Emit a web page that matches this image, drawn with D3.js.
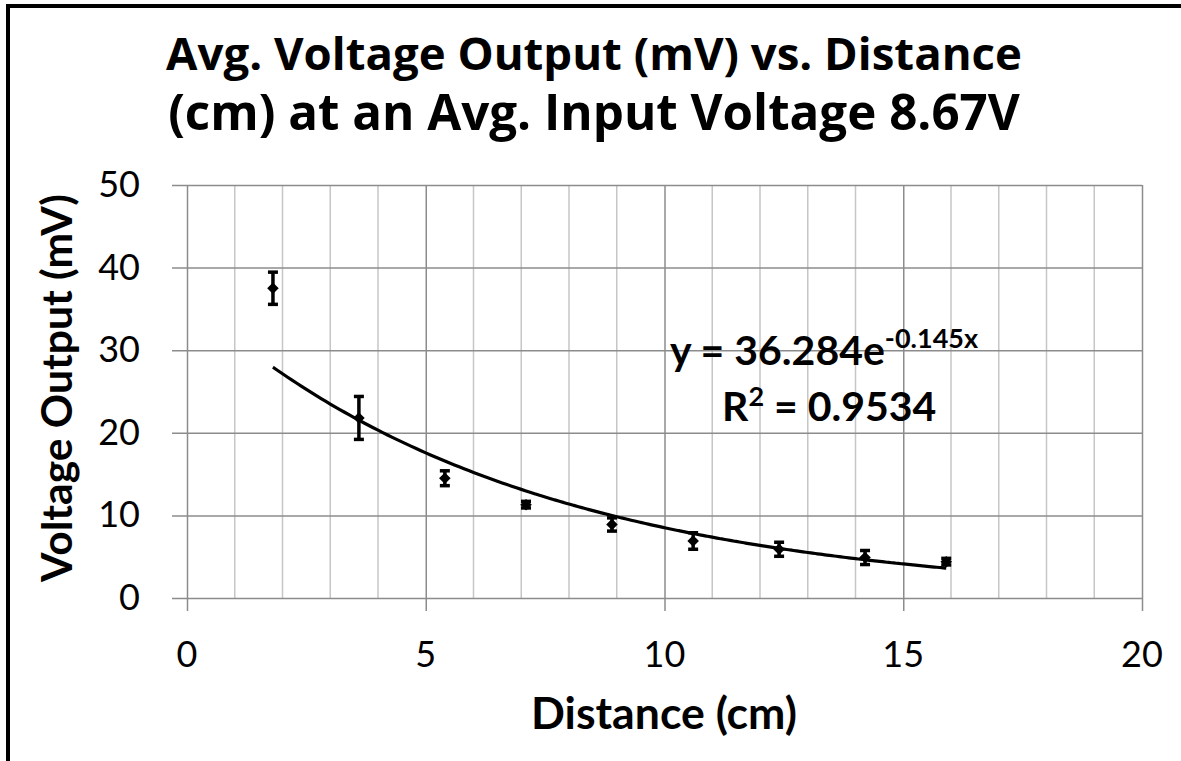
<!DOCTYPE html>
<html><head><meta charset="utf-8">
<script src="https://cdn.jsdelivr.net/npm/d3@7"></script>
<style>html,body{margin:0;padding:0;background:#fff;overflow:hidden;}svg{display:block;}</style>
</head><body>
<svg id="chart" width="1181" height="761"></svg>
<script>
// ---- data ----
const distance = [1.8, 3.6, 5.4, 7.1, 8.9, 10.6, 12.4, 14.2, 15.9];
const voltage  = [37.5, 21.8, 14.5, 11.3, 8.9, 6.9, 5.9, 4.9, 4.4];
const errorBar = [1.95, 2.6, 0.9, 0.4, 0.8, 1.0, 0.85, 0.85, 0.4];
const xTicks = [0, 5, 10, 15, 20];
const yTicks = [0, 10, 20, 30, 40, 50];
const trendA = 36.284, trendB = -0.145;
const titleLines = ["Avg. Voltage Output (mV) vs. Distance", "(cm) at an Avg. Input Voltage 8.67V"];
const xTitle = "Distance (cm)", yTitle = "Voltage Output (mV)";

const FONT = "Lato, 'Open Sans', sans-serif";
const TFONT = "'Open Sans', Lato, sans-serif";
const svg = d3.select("#chart");
const L = 187, R = 1142, T = 185, B = 598;
const x = d3.scaleLinear().domain([0, 20]).range([L, R]);
const y = d3.scaleLinear().domain([0, 50]).range([B, T]);

// border (top and left only visible in the frame)
svg.append("line").attr("x1", 6).attr("x2", 1181).attr("y1", 6).attr("y2", 6).attr("stroke", "#000").attr("stroke-width", 4);
svg.append("line").attr("x1", 8).attr("x2", 8).attr("y1", 4).attr("y2", 761).attr("stroke", "#000").attr("stroke-width", 4);

function fitText(sel, target, base) {
  const w = sel.node().getComputedTextLength();
  sel.attr("font-size", base * target / w);
}

// minor vertical gridlines
svg.append("g").selectAll("line").data(d3.range(0, 21).filter(v => v % 5 !== 0)).join("line")
  .attr("x1", d => x(d)).attr("x2", d => x(d)).attr("y1", T).attr("y2", B)
  .attr("stroke", "#c6c6c6").attr("stroke-width", 1.5);

// major gridlines via axes
const gx = svg.append("g").attr("transform", `translate(0,${B})`)
  .call(d3.axisBottom(x).tickValues(xTicks).tickFormat(""));
gx.select(".domain").remove();
gx.selectAll(".tick line").attr("stroke", "#8c8c8c").attr("stroke-width", 1.5).attr("y1", 13).attr("y2", -(B - T));

const gy = svg.append("g").attr("transform", `translate(${L},0)`)
  .call(d3.axisLeft(y).tickValues(yTicks).tickFormat(""));
gy.select(".domain").remove();
gy.selectAll(".tick line").attr("stroke", "#8c8c8c").attr("stroke-width", 1.5).attr("x1", -15).attr("x2", R - L);

// tick labels
svg.append("g").selectAll("text").data(xTicks).join("text")
  .attr("x", d => x(d)).attr("y", 667).attr("text-anchor", "middle")
  .attr("font-family", FONT).attr("font-size", 36).attr("fill", "#000").text(d => d);
svg.append("g").selectAll("text").data(yTicks).join("text")
  .attr("x", 140).attr("y", d => y(d) + 12).attr("text-anchor", "end")
  .attr("font-family", FONT).attr("font-size", 36).attr("fill", "#000").text(d => d);

// title
const tw = [856, 852];
titleLines.forEach((t, i) => {
  const el = svg.append("text").attr("x", 594).attr("y", 70 + i * 60).attr("text-anchor", "middle")
    .attr("font-family", TFONT).attr("font-weight", "bold").attr("font-size", 40).attr("fill", "#000").text(t);
  fitText(el, tw[i], 40);
});

// axis titles
const xt = svg.append("text").attr("x", 664).attr("y", 729).attr("text-anchor", "middle")
  .attr("font-family", FONT).attr("font-weight", "bold").attr("font-size", 33).text(xTitle);
fitText(xt, 266, 33);
const yt = svg.append("text").attr("transform", "translate(72,388) rotate(-90)").attr("text-anchor", "middle")
  .attr("font-family", FONT).attr("font-weight", "bold").attr("font-size", 33).text(yTitle);
fitText(yt, 388, 33);

// trendline
const tx = d3.range(distance[0], distance[distance.length - 1] + 0.001, 0.1);
const line = d3.line().x(d => x(d)).y(d => y(trendA * Math.exp(trendB * d))).curve(d3.curveBasis);
svg.append("path").attr("d", line(tx)).attr("fill", "none").attr("stroke", "#000").attr("stroke-width", 3.2);

// error bars
const pts = distance.map((d, i) => ({x: d, y: voltage[i], e: errorBar[i]}));
const eb = svg.append("g").attr("stroke", "#000").attr("stroke-width", 3.5);
eb.selectAll("line.v").data(pts).join("line")
  .attr("x1", d => x(d.x)).attr("x2", d => x(d.x)).attr("y1", d => y(d.y + d.e)).attr("y2", d => y(d.y - d.e));
eb.selectAll("line.t").data(pts).join("line")
  .attr("x1", d => x(d.x) - 5).attr("x2", d => x(d.x) + 5).attr("y1", d => y(d.y + d.e)).attr("y2", d => y(d.y + d.e));
eb.selectAll("line.b").data(pts).join("line")
  .attr("x1", d => x(d.x) - 5).attr("x2", d => x(d.x) + 5).attr("y1", d => y(d.y - d.e)).attr("y2", d => y(d.y - d.e));

// markers
svg.append("g").selectAll("path").data(pts).join("path")
  .attr("transform", d => `translate(${x(d.x)},${y(d.y)})`)
  .attr("d", d3.symbol(d3.symbolDiamond2, 85)()).attr("fill", "#000");

// equation
const eq = svg.append("text").attr("x", 670).attr("y", 365).attr("font-family", FONT)
  .attr("font-weight", "bold").attr("font-size", 41).attr("fill", "#000");
eq.append("tspan").text("y = 36.284e");
eq.append("tspan").attr("font-size", 27).attr("dy", -17).text("-0.145x");
const r2 = svg.append("text").attr("x", 722).attr("y", 421).attr("font-family", FONT)
  .attr("font-weight", "bold").attr("font-size", 41).attr("fill", "#000");
r2.append("tspan").text("R");
r2.append("tspan").attr("font-size", 27).attr("dy", -15).text("2");
r2.append("tspan").attr("dy", 15).text(" = 0.9534");
</script>
</body></html>
